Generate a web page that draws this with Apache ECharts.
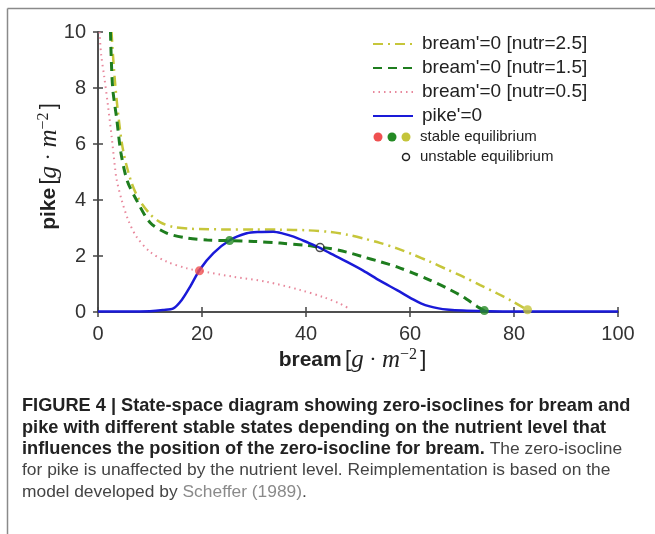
<!DOCTYPE html>
<html><head><meta charset="utf-8">
<script src="https://cdn.jsdelivr.net/npm/echarts@6/dist/echarts.min.js"></script>
<style>html,body{margin:0;padding:0;background:#fff}#c{width:655px;height:534px}</style>
</head><body><div id="c"></div>
<script>
// ---- data ----
const xTicks = [0, 20, 40, 60, 80, 100];
const yTicks = [0, 2, 4, 6, 8, 10];
const seriesNames = ["bream'=0 [nutr=2.5]", "bream'=0 [nutr=1.5]", "bream'=0 [nutr=0.5]", "pike'=0"];
const breamNutr25 = [[2.6,10],[3.1,8.6],[3.8,7.2],[4.8,5.8],[6.3,4.7],[7.8,4.05],[10,3.5],[12,3.2],[14.4,3.04],[18,2.97],[25,2.95],[30,2.95],[35,2.94],[40,2.92],[44.6,2.86],[48,2.76],[51,2.63],[54.2,2.47],[57.5,2.27],[60.6,2.05],[63.8,1.8],[67,1.53],[70.2,1.26],[73.5,0.96],[76.7,0.67],[79.5,0.4],[82.5,0.08]];
const breamNutr15 = [[2.4,10],[2.8,8.05],[3.6,6.9],[4.4,5.7],[5.6,4.7],[7.4,4.0],[10,3.2],[13.2,2.82],[17.1,2.64],[21,2.57],[25.3,2.55],[30,2.52],[35,2.46],[40,2.38],[42.7,2.31],[44.6,2.27],[47.8,2.14],[51,1.97],[54.2,1.8],[57.5,1.61],[60.6,1.39],[63.8,1.14],[67,0.86],[70.2,0.54],[72.9,0.2],[74.3,0.05]];
const breamNutr05 = [[0.3,10],[0.6,9.2],[1.2,8.4],[1.9,7.4],[2.6,6.3],[3.3,5.1],[3.6,4.71],[4.55,4.0],[5.8,3.29],[7.4,2.69],[10,2.15],[13.2,1.8],[17.1,1.56],[19.5,1.47],[26,1.26],[32.4,1.08],[38.8,0.79],[43.5,0.52],[46.5,0.3],[48.5,0.1]];
const pikeIso = [[0,0.02],[5,0.02],[10,0.03],[12.5,0.07],[14.5,0.13],[16.1,0.43],[17.7,0.9],[19.6,1.52],[22.2,2.1],[25.4,2.57],[28.6,2.81],[31,2.86],[33.7,2.87],[35.6,2.8],[37.6,2.69],[40.1,2.5],[42.7,2.29],[44.6,2.1],[47.8,1.8],[51,1.48],[54.2,1.12],[57.5,0.78],[60.6,0.45],[62.2,0.3],[63.8,0.2],[65.5,0.13],[67,0.09],[70.2,0.05],[75,0.03],[80,0.02],[100,0.02]];
const stableEq = [[19.5,1.47,'#ef5050'],[25.3,2.55,'#248a24'],[74.3,0.05,'#248a24'],[82.6,0.08,'#c4c43a']];
const unstableEq = [[42.7,2.3]];
const legendExtra = ['stable equilibrium', 'unstable equilibrium'];
const caption = [
  [['b','FIGURE 4 | State-space diagram showing zero-isoclines for bream and']],
  [['b','pike with different stable states depending on the nutrient level that']],
  [['b','influences the position of the zero-isocline for bream.'],['r',' The zero-isocline']],
  [['r','for pike is unaffected by the nutrient level. Reimplementation is based on the']],
  [['r','model developed by '],['g','Scheffer (1989)'],['r','.']]
];

const SANS = "'Liberation Sans', Arial, Helvetica, sans-serif";
const SERIF = "'Liberation Serif', 'DejaVu Serif', serif";
const colors = ['#c6c63a', '#1e7d1e', '#e8889c', '#1a1ad8'];

const chart = echarts.init(document.getElementById('c'));

const axisLine = {show: true, lineStyle: {color: '#444', width: 1.5}};
const axisTick = {show: true, inside: false, length: 5, lineStyle: {color: '#444', width: 1.5}};

const mathRich = {
  b: {fontFamily: SANS, fontWeight: 'bold', fontSize: 21, color: '#222', lineHeight: 26},
  n: {fontFamily: SANS, fontSize: 22, color: '#222', lineHeight: 26},
  i: {fontFamily: SERIF, fontStyle: 'italic', fontSize: 25, color: '#222', lineHeight: 26},
  d: {fontFamily: SERIF, fontSize: 22, color: '#222', lineHeight: 26},
  s: {fontFamily: SERIF, fontSize: 16, color: '#222', lineHeight: 13, verticalAlign: 'top'}
};
const unitStr = ' {n|[}{i|g}{d| · }{i|m}{s|−2\u2009}{n|]}';

const graphics = [];
// outer frame
graphics.push({type: 'line', shape: {x1: 7.5, y1: 8.5, x2: 655, y2: 8.5}, style: {stroke: '#8a8a8a', lineWidth: 1.5}, silent: true});
graphics.push({type: 'line', shape: {x1: 7.5, y1: 8.5, x2: 7.5, y2: 534}, style: {stroke: '#8a8a8a', lineWidth: 1.5}, silent: true});
// extra legend entries
[['#ef5050',378],['#248a24',392],['#c4c43a',406]].forEach(function (d) {
  graphics.push({type: 'circle', shape: {cx: d[1], cy: 137, r: 4.5}, style: {fill: d[0]}, z: 100});
});
graphics.push({type: 'circle', shape: {cx: 406, cy: 157, r: 3.5}, style: {fill: '#fff', stroke: '#222', lineWidth: 1.5}, z: 100});
graphics.push({type: 'text', x: 420, y: 137, style: {text: legendExtra[0], font: '15px ' + SANS, fill: '#222', textVerticalAlign: 'middle'}, z: 100});
graphics.push({type: 'text', x: 420, y: 157, style: {text: legendExtra[1], font: '15px ' + SANS, fill: '#222', textVerticalAlign: 'middle'}, z: 100});
// caption
const capY = [405.5, 427.5, 449, 470.5, 492];
caption.forEach(function (line, k) {
  graphics.push({
    type: 'text', x: 22, y: capY[k],
    style: {
      text: line.map(function (p) { return '{' + p[0] + '|' + p[1] + '}'; }).join(''),
      textVerticalAlign: 'middle',
      rich: {
        b: {fontFamily: SANS, fontWeight: 'bold', fontSize: 18.2, fill: '#222', color: '#222'},
        r: {fontFamily: SANS, fontSize: 17.4, fill: '#444', color: '#444'},
        g: {fontFamily: SANS, fontSize: 17.4, fill: '#8a8a8a', color: '#8a8a8a'}
      }
    }
  });
});

const lineSeries = [
  {name: seriesNames[0], data: breamNutr25, color: colors[0], lineStyle: {width: 2.5, type: [10, 5, 2, 5]}},
  {name: seriesNames[1], data: breamNutr15, color: colors[1], lineStyle: {width: 3, type: [9, 6]}},
  {name: seriesNames[2], data: breamNutr05, color: colors[2], lineStyle: {width: 2, type: [1.5, 4]}},
  {name: seriesNames[3], data: pikeIso, color: colors[3], lineStyle: {width: 2.5, type: 'solid'}, z: 5}
].map(function (s) {
  return {
    type: 'line', name: s.name, data: s.data, smooth: 0.3, showSymbol: false, symbol: 'none',
    itemStyle: {color: s.color}, lineStyle: Object.assign({color: s.color}, s.lineStyle),
    z: s.z || 3, silent: true, animation: false
  };
});

const option = {
  animation: false,
  backgroundColor: '#fff',
  grid: {left: 98, right: 37, top: 32, bottom: 222},
  legend: {
    data: seriesNames, orient: 'vertical', left: 367, top: 29,
    itemWidth: 40, itemHeight: 10, itemGap: 4,
    itemStyle: {opacity: 0, borderWidth: 0},
    textStyle: {fontFamily: SANS, fontSize: 19, color: '#222', lineHeight: 20, padding: [0, 0, 0, 4]},
    selectedMode: false
  },
  xAxis: [
    {type: 'value', position: 'bottom', min: xTicks[0], max: xTicks[xTicks.length - 1], interval: 20,
     axisLine: axisLine, axisTick: axisTick, splitLine: {show: false},
     axisLabel: {fontFamily: SANS, fontSize: 20, color: '#333', margin: 12},
     name: '{b|bream}' + unitStr + '{n|\u2002}', nameLocation: 'middle', nameGap: 35, nameMoveOverlap: false,
     nameTextStyle: {rich: mathRich}},
    {type: 'value', position: 'top', min: xTicks[0], max: xTicks[xTicks.length - 1], interval: 20,
     axisLine: axisLine, axisTick: axisTick, splitLine: {show: false}, axisLabel: {show: false}}
  ],
  yAxis: [
    {type: 'value', position: 'left', min: yTicks[0], max: yTicks[yTicks.length - 1], interval: 2,
     axisLine: axisLine, axisTick: axisTick, splitLine: {show: false},
     axisLabel: {fontFamily: SANS, fontSize: 20, color: '#333', margin: 12},
     name: '{n|\u2002}{b|pike}' + unitStr, nameLocation: 'middle', nameGap: 36, nameRotate: 90, nameMoveOverlap: false,
     nameTextStyle: {rich: mathRich}},
    {type: 'value', position: 'right', min: yTicks[0], max: yTicks[yTicks.length - 1], interval: 2,
     axisLine: axisLine, axisTick: axisTick, splitLine: {show: false}, axisLabel: {show: false}}
  ],
  series: lineSeries.concat([
    {type: 'scatter', name: 'stable', data: stableEq.map(function (d) { return {value: [d[0], d[1]], itemStyle: {color: d[2]}}; }),
     symbolSize: 9, z: 10, silent: true},
    {type: 'scatter', name: 'unstable', data: unstableEq, symbolSize: 8,
     itemStyle: {color: 'rgba(255,255,255,0)', borderColor: '#222', borderWidth: 1.5}, z: 10, silent: true}
  ]),
  graphic: graphics
};
chart.setOption(option);
</script>
</body></html>
